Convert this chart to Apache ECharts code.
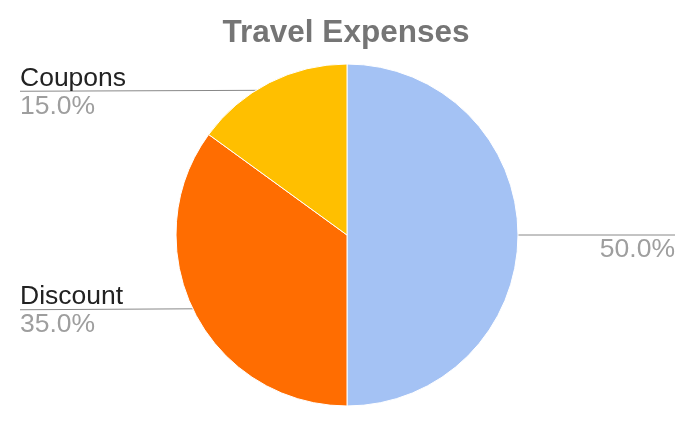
<!DOCTYPE html>
<html>
<head>
<meta charset="utf-8">
<script src="https://cdn.jsdelivr.net/npm/echarts@6/dist/echarts.min.js"></script>
<style>html,body{margin:0;padding:0;background:#fff}#c{width:692px;height:425px}</style>
</head>
<body>
<div id="c"></div>
<script>
var titleText = 'Travel Expenses';
var categories = ['', 'Discount', 'Coupons'];
var values = [50, 35, 15];
var colors = ['#a4c2f4', '#ff6d01', '#ffbf00'];

var CX = 347, CY = 235, R = 171;
var total = values.reduce(function (a, b) { return a + b; }, 0);
var midAngles = [];
(function () {
  var acc = 0;
  for (var i = 0; i < values.length; i++) {
    var a0 = acc / total * 360, a1 = (acc + values[i]) / total * 360;
    midAngles.push((a0 + a1) / 2);
    acc += values[i];
  }
})();

var chart = echarts.init(document.getElementById('c'), null, { renderer: 'canvas' });
chart.setOption({
  animation: false,
  title: {
    text: titleText,
    left: 'center',
    top: 12,
    textStyle: { fontFamily: 'Liberation Sans, Arial, sans-serif', fontSize: 31.5, fontWeight: 'bold', color: '#757575' }
  },
  color: colors,
  series: [{
    type: 'pie',
    center: [CX, CY],
    radius: R,
    startAngle: 90,
    clockwise: true,
    itemStyle: { borderColor: '#ffffff', borderWidth: 1 },
    data: categories.map(function (c, i) { return { name: c, value: values[i] }; }),
    label: {
      show: true,
      position: 'outside',
      formatter: function (p) {
        return '{n|' + (p.name || ' ') + '}\n{p|' + p.percent.toFixed(1) + '%}';
      },
      rich: {
        n: { fontFamily: 'Liberation Sans, Arial, sans-serif', fontSize: 26.5, color: '#222222', lineHeight: 28 },
        p: { fontFamily: 'Liberation Sans, Arial, sans-serif', fontSize: 26.5, color: '#9e9e9e', lineHeight: 28 }
      }
    },
    labelLine: { show: true, lineStyle: { color: '#888888', width: 1 } },
    labelLayout: function (params) {
      var i = params.dataIndex;
      var ang = midAngles[i] * Math.PI / 180;
      var r0 = R * 0.95;
      var sx = CX + r0 * Math.sin(ang), sy = CY - r0 * Math.cos(ang);
      var left = Math.sin(ang) < 0;
      var ex = left ? 20 : 675;
      var ey = sy + (left ? 1 : 0);
      return {
        x: ex,
        y: ey + 1,
        align: left ? 'left' : 'right',
        verticalAlign: 'middle',
        labelLinePoints: [[sx, sy], [ex, ey]]
      };
    }
  }]
});
</script>
</body>
</html>
